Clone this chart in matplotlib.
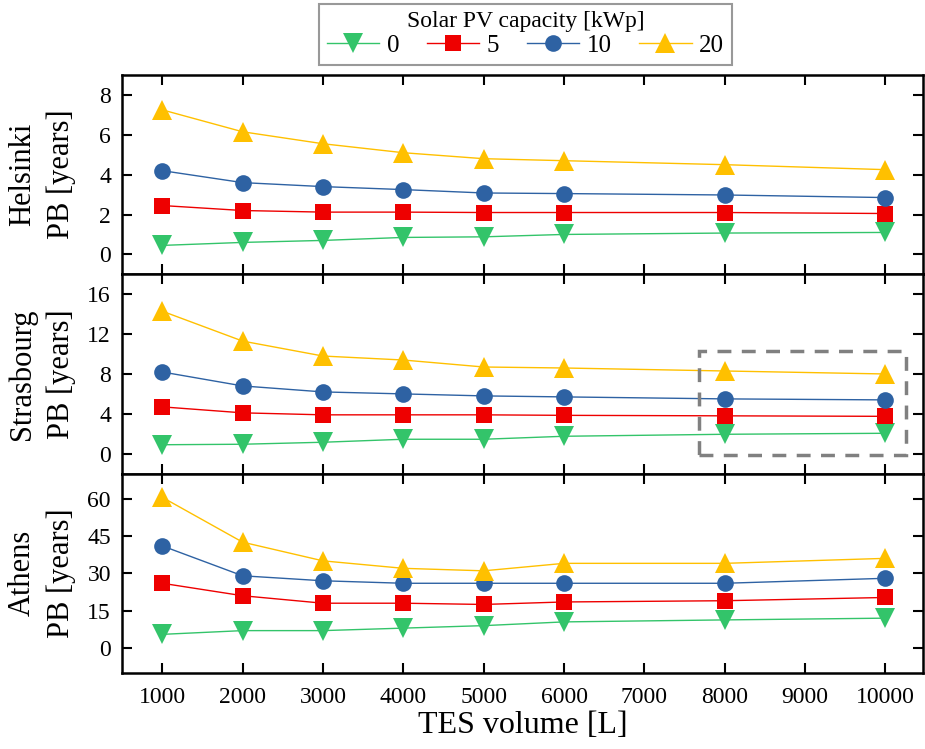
import matplotlib.pyplot as plt
from matplotlib.patches import Rectangle

plt.rcParams['font.family'] = ['Liberation Serif', 'DejaVu Serif']

# TES volume [L]
volume = [1000, 2000, 3000, 4000, 5000, 6000, 8000, 10000]

# Payback period [years] per city and PV capacity [kWp]
helsinki_0 = [0.45, 0.6, 0.7, 0.85, 0.88, 1.0, 1.07, 1.1]
helsinki_5 = [2.45, 2.2, 2.12, 2.12, 2.1, 2.1, 2.1, 2.05]
helsinki_10 = [4.2, 3.6, 3.4, 3.25, 3.08, 3.05, 2.98, 2.85]
helsinki_20 = [7.25, 6.15, 5.55, 5.1, 4.8, 4.7, 4.5, 4.25]

strasbourg_0 = [0.9, 0.95, 1.15, 1.45, 1.45, 1.75, 1.95, 2.05]
strasbourg_5 = [4.7, 4.1, 3.9, 3.9, 3.9, 3.85, 3.8, 3.75]
strasbourg_10 = [8.2, 6.8, 6.2, 6.0, 5.8, 5.7, 5.5, 5.4]
strasbourg_20 = [14.3, 11.3, 9.8, 9.4, 8.7, 8.6, 8.3, 8.0]

athens_0 = [5.5, 7.0, 7.0, 8.0, 9.0, 10.5, 11.3, 12.0]
athens_5 = [26.0, 21.0, 18.0, 18.0, 17.5, 18.5, 19.0, 20.3]
athens_10 = [41.0, 29.0, 27.0, 26.0, 26.0, 26.0, 26.0, 28.0]
athens_20 = [60.5, 42.5, 35.0, 32.0, 31.0, 34.0, 34.0, 36.0]

capacities = ['0', '5', '10', '20']
cities = ['Helsinki', 'Strasbourg', 'Athens']
city_data = [
    [helsinki_0, helsinki_5, helsinki_10, helsinki_20],
    [strasbourg_0, strasbourg_5, strasbourg_10, strasbourg_20],
    [athens_0, athens_5, athens_10, athens_20],
]

colors = ['#33c46a', '#ee0000', '#2e62a3', '#ffc000']
markers = ['v', 's', 'o', '^']
msizes = [14, 11, 12, 14]

ylims = [(-1, 9), (-2, 18), (-10, 70)]
yticks = [[0, 2, 4, 6, 8], [0, 4, 8, 12, 16], [0, 15, 30, 45, 60]]

fig, axes = plt.subplots(3, 1, figsize=(9.25, 7.49), dpi=100, sharex=True,
                         gridspec_kw={'hspace': 0})
fig.subplots_adjust(left=0.132, right=0.998, bottom=0.1015, top=0.8999)

for ax, city, data, ylim, yt in zip(axes, cities, city_data, ylims, yticks):
    for vals, c, m, ms, lab in zip(data, colors, markers, msizes, capacities):
        ax.plot(volume, vals, color=c, lw=1.0, marker=m, markersize=ms,
                markeredgewidth=0, label=lab)
    ax.set_ylim(*ylim)
    ax.set_yticks(yt)
    ax.set_xlim(500, 10470)
    ax.set_ylabel(city + '\nPB [years]', fontsize=22, linespacing=1.4)
    ax.yaxis.set_label_coords(-0.058, 0.5)
    ax.tick_params(direction='in', length=7, width=1.5, labelsize=17,
                   top=True, right=True, pad=8)
    for s in ax.spines.values():
        s.set_linewidth(1.8)

axes[-1].set_xticks(range(1000, 10001, 1000))
axes[-1].set_xlabel('TES volume [L]', fontsize=23, labelpad=2)
axes[-1].tick_params(axis='x', pad=10)

# highlight of the large-volume region in Strasbourg
axes[1].add_patch(Rectangle((7680, -0.1), 2580, 10.4, fill=False,
                            edgecolor='#808080', linestyle=(0, (4, 3)),
                            linewidth=2.5, clip_on=False, zorder=5))

handles, labels = axes[0].get_legend_handles_labels()
leg = fig.legend(handles, labels, loc='upper center',
                 bbox_to_anchor=(0.568, 0.995), ncol=4, fontsize=18,
                 title='Solar PV capacity [kWp]', title_fontsize=17,
                 frameon=True, fancybox=False, edgecolor='#808080',
                 handlelength=2.1, columnspacing=1.1, handletextpad=0.3,
                 borderpad=0.3, borderaxespad=0, labelspacing=0.1)
leg.get_frame().set_linewidth(1.5)

plt.savefig('out.png', dpi=100)
